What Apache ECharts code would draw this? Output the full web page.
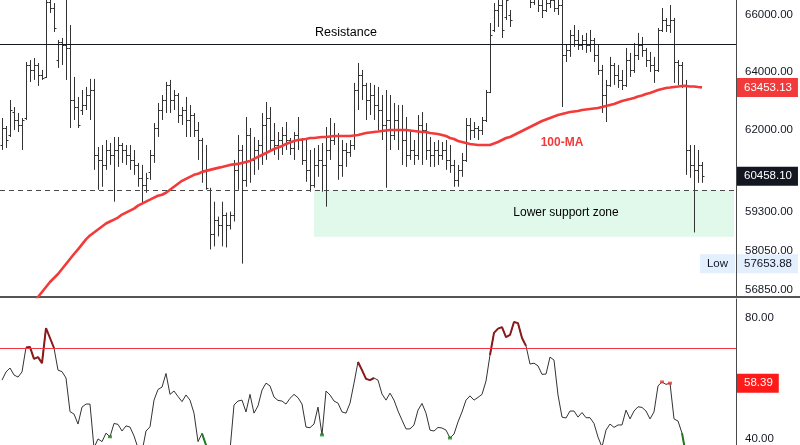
<!DOCTYPE html>
<html><head><meta charset="utf-8">
<script src="https://cdn.jsdelivr.net/npm/echarts@6/dist/echarts.min.js"></script>
<style>html,body{margin:0;padding:0;background:#fff}#c{width:800px;height:445px}</style>
</head><body><div id="c"></div>
<script>
// ---------- DATA ----------
const opens = [
61497,62068,61832,62610,62338,62169,62406,64232,64058,64232,
63884,63815,66469,66252,64406,65041,64935,64829,63020,62780,
62678,62849,63191,63363,61164,60999,60834,61330,61164,61330,
61497,61330,61164,60999,60834,60408,60180,60604,61164,62068,
62678,63020,63539,63020,63191,62508,62678,62338,62508,62000,
61664,60670,60018,58577,59053,58894,59213,58894,59213,60670,
61330,60343,61832,60999,61330,61497,62169,62406,61664,61497,
61664,61832,61664,61397,61832,61664,60999,60670,60180,60834,
60999,60834,61330,61664,61832,60834,61330,61264,61497,63363,
63884,63539,63020,63191,62849,62678,62169,62338,61832,62338,
62000,61664,61164,61330,61164,62169,62000,61330,61164,61330,
61164,61330,60999,60834,60343,60670,60999,62169,62000,62068,
62000,62338,63294,65465,66180,66360,65928,66000,66722,67086,
67452,67269,66904,66469,66722,66360,66180,66432,66541,66252,
66360,64584,64759,65288,65111,64935,65111,64935,65111,64584,
64058,63191,63539,64232,63884,63711,63539,64406,64058,64584,
64935,64759,64406,64232,64058,65465,65821,65643,65821,64336,
64232,63539,61330,60834,60670,60834
];
const highs = [
62406,62135,63020,62780,62576,62406,64336,64406,64476,64301,
64058,67086,66904,66432,65111,65182,66722,65643,63815,63123,
63363,63469,63746,63746,61430,61497,61664,61564,61765,61765,
61564,61497,61497,61330,60900,60834,60571,61330,62237,62917,
63191,63642,63711,63363,63260,62780,63123,62849,62576,62270,
61731,61497,60083,59630,59149,59630,59277,59309,60999,61832,
61497,62440,62068,61765,61664,62576,62952,62780,62237,61933,
62101,62270,61731,61933,62440,61731,61664,61330,61397,61497,
61564,62101,62406,62237,61899,61664,61564,61664,63608,64301,
64058,63608,63608,63539,63469,63191,63363,63191,62917,62849,
62849,62440,62000,61664,62508,62610,62237,61765,61598,61664,
61598,61664,61497,60999,60834,61230,62406,62406,62270,62135,
62440,63363,65714,66432,66722,66541,66904,66180,67269,67636,
67821,67636,67269,67086,67269,67086,66904,66904,66977,66722,
66722,64935,65465,65643,65465,65288,65359,65465,65182,64935,
64232,63711,64514,64301,64232,64058,64829,64654,65005,65359,
65217,64829,64689,64514,65536,66252,65893,66360,65893,64406,
64336,63711,61497,61497,61330,60933
];
const lows = [
61330,61397,61765,62000,61933,61330,62338,63642,63711,63504,
63711,63780,66072,65394,64128,64232,63711,62068,62338,62068,
62508,62678,62338,60670,60018,60115,60670,60834,59630,60768,
60900,60834,60670,60506,60115,59597,59921,60343,60900,61765,
62338,62576,62576,62678,62237,62169,61765,61765,61765,60999,
60245,60018,58103,58198,58514,58198,58166,58735,58990,60018,
57653.88,60115,60245,60506,60670,60834,60999,61330,61164,60999,
61164,61330,61164,60999,61330,60834,60278,59953,60083,60441,
59953,59469,60999,61497,60343,60441,60768,61098,61330,62678,
63020,62338,62508,62338,62000,61664,60083,61330,61664,61330,
60834,60768,60999,60834,60999,60834,60999,60768,60768,60834,
60999,60670,60571,60115,60115,60441,60933,61664,61731,61664,
61832,62270,63260,65394,65572,65182,65821,65572,66650,66831,
66904,66722,66252,66360,66108,65893,66108,66252,66108,66000,
62780,64336,64514,64864,64759,64759,64654,64689,64336,63884,
62576,62270,63469,63539,63434,63363,63469,63815,63953,64406,
64514,64162,63988,63608,63988,65394,65394,65359,63608,63539,
63434,60506,60408,58640,60245,60245
];
const closes = [
62068,61664,62678,62338,62169,62338,64232,64058,64232,63884,
63780,66469,66252,65536,65041,64935,64829,63020,62780,62169,
62849,63191,63363,61164,60999,60834,61330,61164,61330,61497,
61330,61164,60999,60834,60408,60180,60408,61164,62068,62678,
63020,63539,63020,63191,62508,62678,62338,62508,62000,61664,
60670,60083,58577,59053,58894,59213,58894,59213,60670,61330,
60343,61832,60999,61330,61497,62169,62406,61664,61497,61664,
61832,61664,61397,61832,61664,60999,60670,60180,60834,60999,
60834,61330,61664,61832,60834,61330,61264,61497,63363,63884,
63539,63020,63191,62849,62678,62169,62338,61832,62338,62000,
61664,61164,61330,61164,62169,62000,61330,61164,61330,61164,
61330,60999,60834,60343,60670,60999,62169,62000,62068,62000,
62338,63294,65288,66180,66360,65465,66541,65821,67086,67452,
67269,66904,66469,66722,66360,66180,66432,66541,66252,66360,
64584,64759,65288,65111,64935,65111,64935,65111,64584,64058,
63191,63539,64232,63884,63711,63539,64406,64058,64584,64935,
64759,64406,64232,64058,65465,65821,65643,65821,64336,64232,
63539,61330,60834,60670,60834,60458.10
];
const ma100 = [
null,null,null,null,null,null,null,null,56434,56618,
56772,56927,57082,57205,57331,57487,57643,57800,57957,58103,
58261,58418,58545,58640,58735,58830,58926,58990,59053,59117,
59213,59277,59341,59405,59501,59565,59630,59694,59759,59823,
59856,59921,60018,60115,60213,60311,60376,60441,60506,60539,
60604,60637,60670,60703,60736,60768,60801,60834,60851,60867,
60900,60933,60966,61032,61098,61164,61230,61297,61363,61413,
61464,61531,61581,61631,61664,61681,61698,61731,61731,61748,
61765,61765,61782,61798,61798,61798,61798,61798,61815,61832,
61866,61899,61916,61933,61949,61966,61983,62000,62000,62000,
62000,62000,61983,61966,61949,61933,61933,61899,61883,61866,
61832,61798,61731,61698,61631,61598,61564,61531,61514,61497,
61497,61497,61497,61547,61598,61664,61731,61765,61832,61899,
61966,62034,62101,62169,62237,62304,62355,62406,62457,62508,
62542,62576,62610,62627,62644,62678,62695,62712,62729,62746,
62780,62815,62849,62883,62935,62986,63020,63054,63089,63140,
63174,63225,63260,63311,63363,63398,63434,63451,63469,63486,
63504,63504,63486,63486,63469,63453.13
];
const rsi = [
59.4,62.1,63.4,61.1,60.4,62.1,70.2,70.3,66.4,67.0,
65.0,76.6,73.3,70.0,62.7,62.2,60.1,49.0,48.2,44.9,
50.5,51.5,51.5,37.0,40.0,39.1,41.9,40.7,45.1,44.8,
42.6,44.3,43.9,41.0,37.0,35.7,42.6,44.0,52.8,56.3,
57.1,61.6,54.7,55.8,54.0,52.3,54.5,52.8,48.5,39.1,
41.8,38.0,33.0,34.7,33.7,35.3,34.0,36.3,51.2,52.5,
52.8,48.9,54.7,48.5,50.9,56.1,58.4,57.5,53.8,52.7,
52.5,51.5,53.4,54.7,53.6,51.5,43.9,43.7,44.9,50.5,
41.3,55.8,54.5,52.5,51.8,48.9,48.5,51.8,58.4,65.4,
62.7,59.8,59.4,60.1,59.4,54.8,52.8,55.1,52.8,49.2,
46.2,43.3,43.3,44.6,49.5,51.7,48.5,42.9,42.6,43.8,
43.6,42.9,40.3,41.6,45.6,48.9,52.8,54.2,52.8,53.7,
54.7,59.1,67.7,75.0,76.4,76.9,73.6,74.3,78.6,78.2,
73.3,70.7,64.7,65.0,64.1,61.3,61.4,67.0,66.0,54.5,
47.2,46.9,49.2,49.2,47.2,48.7,47.0,47.0,45.1,40.6,
37.3,42.9,44.9,43.8,44.6,44.6,49.5,46.6,49.2,50.6,
50.4,49.2,46.6,48.9,57.5,58.8,58.0,58.4,46.6,45.9,
41.9,34.7,30.0,28.0,30.5,31.0
];
const priceTicks = [66000, 64000, 62000, 59300, 58050, 56850];
const rsiTicks = [80, 40];
const resistanceLevel = 64950;
const supportTop = 60000;
const supportBottom = 58500;
const rsiUpper = 70;
const rsiLabelValue = 58.39;
const hotRanges = [[6, 13], [89, 93], [122, 131]];
const hotDots = [165, 167];
const coldRanges = [[34, 35], [50, 52], [170, 172]];
const coldDots = [27, 80, 112];
const slotCount = 184;

// ---------- BUILD ----------
const FONT = 'Liberation Sans, Arial, sans-serif';
const TXT = '#131722';
const categories = Array.from({length: slotCount}, (_, i) => String(i));
const ohlc = opens.map((o, i) => [i, o, highs[i], lows[i], closes[i]]);
const inRanges = (i, rs) => rs.some(r => i >= r[0] && i <= r[1]);
const rsiHot = rsi.map((v, i) => inRanges(i, hotRanges) ? v : null);
const rsiCold = rsi.map((v, i) => inRanges(i, coldRanges) ? v : null);
const lastClose = closes[closes.length - 1];
const lastMA = ma100[ma100.length - 1];
const lowVal = Math.min.apply(null, lows);

function renderOHLC(params, api) {
  const i = api.value(0);
  const o = api.coord([i, api.value(1)]);
  const h = api.coord([i, api.value(2)]);
  const l = api.coord([i, api.value(3)]);
  const c = api.coord([i, api.value(4)]);
  const x = Math.round(h[0]) + 0.5;
  const st = {stroke: '#333333', lineWidth: 1};
  const oy = Math.round(o[1]) + 0.5, cy = Math.round(c[1]) + 0.5;
  return {type: 'group', children: [
    {type: 'line', shape: {x1: x, y1: h[1], x2: x, y2: l[1]}, style: st},
    {type: 'line', shape: {x1: x - 2, y1: oy, x2: x, y2: oy}, style: st},
    {type: 'line', shape: {x1: x, y1: cy, x2: x + 2, y2: cy}, style: st}
  ]};
}

const HIDDEN = {color: 'rgba(0,0,0,0)', width: 1, type: 'solid'};
const boxLabel = (text, bg, fg) => ({show: true, position: 'end', distance: 1, formatter: text,
  backgroundColor: bg, color: fg, padding: [4, 6, 3, 7], fontSize: 11.5, fontFamily: FONT});

const option = {
  animation: false,
  backgroundColor: '#ffffff',
  graphic: [
    {type: 'line', silent: true, z: 10, shape: {x1: 736, y1: 297, x2: 800, y2: 297},
     style: {stroke: '#555', lineWidth: 2}}
  ],
  grid: [
    {left: 0, top: 0, width: 736, height: 297},
    {left: 0, top: 299, width: 736, height: 146}
  ],
  xAxis: [
    {type: 'category', data: categories, gridIndex: 0, boundaryGap: true,
     axisLine: {show: true, lineStyle: {color: '#555', width: 2}}, axisTick: {show: false},
     axisLabel: {show: false}, splitLine: {show: false}},
    {type: 'category', data: categories, gridIndex: 1, boundaryGap: true,
     axisLine: {show: false}, axisTick: {show: false}, axisLabel: {show: false}, splitLine: {show: false}}
  ],
  yAxis: [
    {type: 'log', logBase: 10, gridIndex: 0, position: 'right', min: 56618, max: 66541,
     axisLine: {show: true, lineStyle: {color: '#4a4a4a', width: 1}}, axisTick: {show: false},
     splitLine: {show: false},
     axisLabel: {customValues: priceTicks, formatter: v => Number(v).toFixed(2), color: TXT,
       fontSize: 11.5, margin: 9, fontFamily: FONT}},
    {type: 'value', gridIndex: 1, position: 'right', min: 37.99, max: 86.17,
     axisLine: {show: true, lineStyle: {color: '#4a4a4a', width: 1}}, axisTick: {show: false},
     splitLine: {show: false},
     axisLabel: {customValues: rsiTicks, formatter: v => Number(v).toFixed(2), color: TXT,
       fontSize: 11.5, margin: 9, fontFamily: FONT}}
  ],
  series: [
    {type: 'custom', name: 'OHLC', xAxisIndex: 0, yAxisIndex: 0, data: ohlc, clip: true,
     renderItem: renderOHLC, encode: {x: 0, y: [1, 2, 3, 4]}, z: 3},
    {type: 'line', name: '100-MA', xAxisIndex: 0, yAxisIndex: 0, data: ma100, showSymbol: false,
     symbol: 'none', clip: true, lineStyle: {color: '#f23a3a', width: 2.6}, z: 4,
     markArea: {silent: true, itemStyle: {color: '#e0f9ea'},
       data: [[{xAxis: 78, yAxis: supportTop}, {xAxis: slotCount - 1, yAxis: supportBottom}]]},
     markLine: {symbol: 'none', silent: true, animation: false, data: [
       {yAxis: resistanceLevel, lineStyle: {color: '#131722', width: 1, type: 'solid'}, label: {show: false}},
       {yAxis: supportTop, lineStyle: {color: '#4a4a4a', width: 1, type: [5, 4]}, label: {show: false}}
     ]},
     markPoint: {symbol: 'rect', symbolSize: 1, silent: true, itemStyle: {color: 'rgba(0,0,0,0)'},
       data: [
         {coord: [86, 65359], label: {show: true, position: 'inside', formatter: 'Resistance', color: '#000', fontSize: 12.5, fontFamily: FONT}},
         {coord: [141, 59277], label: {show: true, position: 'inside', formatter: 'Lower support zone', color: '#000', fontSize: 12, fontFamily: FONT}},
         {coord: [140, 61564], label: {show: true, position: 'inside', formatter: '100-MA', color: '#f23a3a', fontSize: 12, fontWeight: 'bold', fontFamily: FONT}}
       ]}
    },
    {type: 'line', name: 'labels', xAxisIndex: 0, yAxisIndex: 0, data: [], symbol: 'none', z: 6,
     markLine: {symbol: 'none', silent: true, animation: false, data: [
       {yAxis: lastMA, lineStyle: HIDDEN, label: boxLabel(lastMA.toFixed(2), '#f23a3a', '#ffffff')},
       {yAxis: lastClose, lineStyle: HIDDEN, label: boxLabel(lastClose.toFixed(2), '#131722', '#ffffff')},
       {yAxis: lowVal, lineStyle: HIDDEN, label: boxLabel(lowVal.toFixed(2), '#e3effd', TXT)},
       {yAxis: lowVal, lineStyle: HIDDEN, label: {show: true, position: 'insideEnd', distance: 1,
         formatter: 'Low', backgroundColor: '#e3effd', color: TXT, padding: [4, 7, 3, 7], fontSize: 11.5, fontFamily: FONT}}
     ]}},
    {type: 'line', name: 'RSI', xAxisIndex: 1, yAxisIndex: 1, data: rsi, symbol: 'none', clip: true,
     lineStyle: {color: '#333333', width: 1}, z: 3,
     markLine: {symbol: 'none', silent: true, animation: false, data: [
       {yAxis: rsiUpper, lineStyle: {color: '#f23645', width: 1, type: 'solid'}, label: {show: false}},
       {yAxis: rsiLabelValue, lineStyle: HIDDEN, label: boxLabel(rsiLabelValue.toFixed(2), '#ff1a1a', '#ffffff')}
     ]}},
    {type: 'line', name: 'RSI hot', xAxisIndex: 1, yAxisIndex: 1, data: rsiHot, symbol: 'none', clip: true,
     connectNulls: false, lineStyle: {color: '#8b1a1a', width: 2}, z: 4},
    {type: 'line', name: 'RSI cold', xAxisIndex: 1, yAxisIndex: 1, data: rsiCold, symbol: 'none', clip: true,
     connectNulls: false, lineStyle: {color: '#1e7b1e', width: 2}, z: 4},
    {type: 'scatter', xAxisIndex: 1, yAxisIndex: 1, symbol: 'rect', symbolSize: [4, 3],
     data: hotDots.map(i => [i, rsi[i]]), itemStyle: {color: '#e53935'}, z: 5},
    {type: 'scatter', xAxisIndex: 1, yAxisIndex: 1, symbol: 'rect', symbolSize: [4, 3],
     data: coldDots.map(i => [i, rsi[i]]), itemStyle: {color: '#1e8a1e'}, z: 5}
  ]
};
const chart = echarts.init(document.getElementById('c'));
chart.setOption(option);
</script>
</body></html>
